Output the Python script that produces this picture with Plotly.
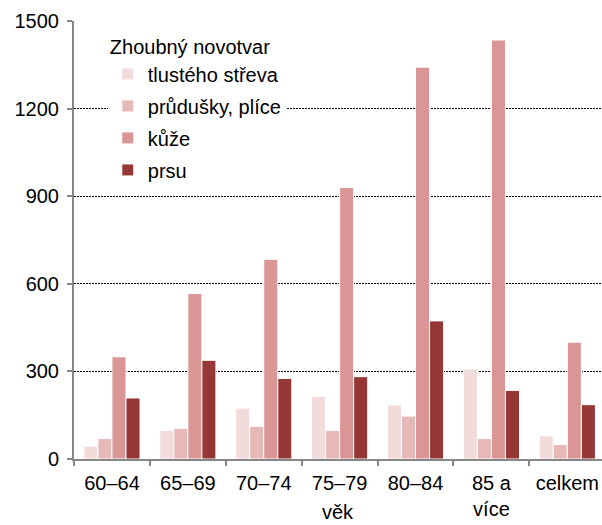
import plotly.graph_objects as go

categories = ["60–64", "65–69", "70–74", "75–79", "80–84", "85 a<br>více", "celkem"]
series_names = ["tlustého střeva", "průdušky, plíce", "kůže", "prsu"]
tlusteho = [44, 98, 174, 215, 185, 308, 79]
prudusky = [70, 105, 112, 98, 147, 70, 50]
kuze = [350, 567, 684, 930, 1342, 1435, 400]
prsu = [209, 338, 276, 282, 473, 235, 186]
colors = ["#F2DCDB", "#E6B9B8", "#D99694", "#953735"]
y_ticks = [0, 300, 600, 900, 1200, 1500]

FONT = "Liberation Sans, Arial, sans-serif"

fig = go.Figure()
for i, (name, vals) in enumerate(zip(series_names, [tlusteho, prudusky, kuze, prsu])):
    fig.add_trace(go.Bar(
        x=categories, y=vals, name=name,
        marker=dict(color=colors[i], line=dict(color="white", width=1)),
        legendgroup=f"g{i}",
    ))

fig.update_layout(
    width=602, height=525,
    margin=dict(l=74, r=0, t=21, b=66),
    paper_bgcolor="white", plot_bgcolor="white",
    barmode="group", bargap=0.26, bargroupgap=0,
    font=dict(family=FONT, size=20, color="black"),
    showlegend=True,
    legend=dict(
        title=dict(text="Zhoubný novotvar", font=dict(size=20)),
        font=dict(size=20),
        x=0.064, y=0.983, xanchor="left", yanchor="top",
        bgcolor="white", tracegroupgap=3,
        itemclick=False,
    ),
    xaxis=dict(
        type="category", range=[-0.5, 6.457],
        showline=True, linecolor="#868686", linewidth=2,
        ticks="outside", tickson="boundaries", ticklen=5, tickcolor="#868686", tickwidth=2,
        showgrid=False, zeroline=False,
        tickfont=dict(size=20),
        ticklabelstandoff=5,
    ),
    yaxis=dict(
        range=[0, 1500], tickvals=y_ticks,
        showline=True, linecolor="#868686", linewidth=2,
        ticks="outside", ticklen=5, tickcolor="#868686", tickwidth=2,
        showgrid=True, gridcolor="black", griddash="1.5px,1.5px", gridwidth=1,
        zeroline=False, tickfont=dict(size=20),
        ticklabelstandoff=4,
    ),
    annotations=[dict(text="věk", xref="paper", yref="paper", x=0.5, y=-0.1507,
                      xanchor="center", yanchor="bottom", showarrow=False,
                      font=dict(size=20))],
)

# remove the default page margin so the 602x525 figure fills the window exactly
fig.write_html(
    "out.html",
    config={"displayModeBar": False},
    post_script="document.body.style.margin='0';document.documentElement.style.overflow='hidden';document.body.style.overflow='hidden';",
)
